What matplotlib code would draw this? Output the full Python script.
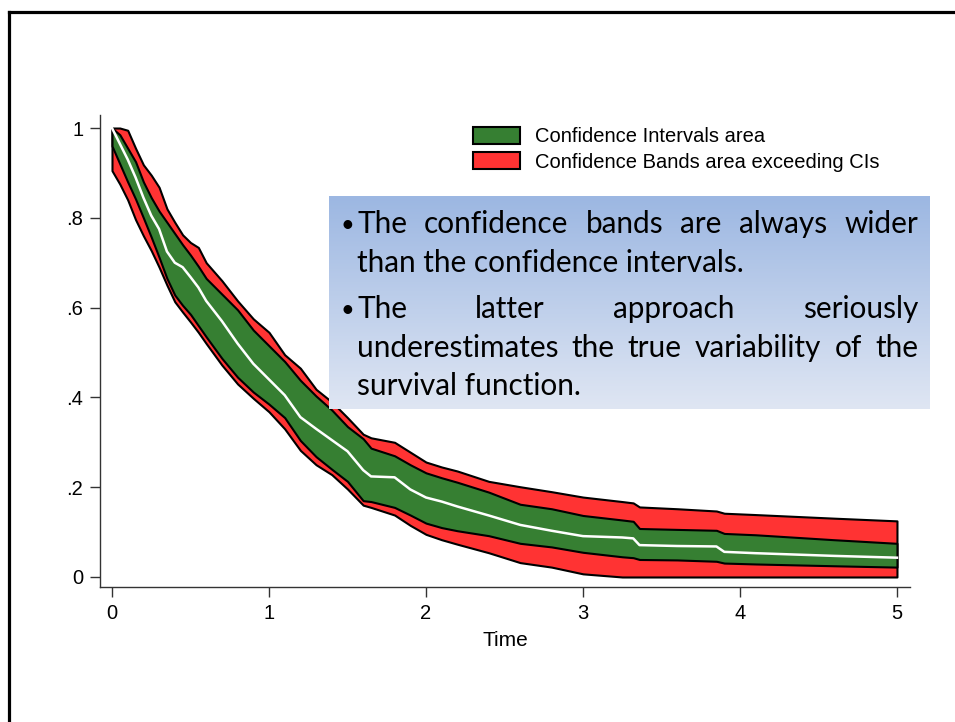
import matplotlib
matplotlib.use('Agg')
import matplotlib.pyplot as plt
import numpy as np
from matplotlib.patches import Patch
from matplotlib.colors import LinearSegmentedColormap
from matplotlib.lines import Line2D

# Datos

tiempo = [0, 0.05, 0.1, 0.15, 0.2, 0.25, 0.3, 0.35, 0.4, 0.45, 0.5, 0.55, 0.6,
          0.7, 0.8, 0.9, 1.0, 1.1, 1.2, 1.3, 1.4, 1.5, 1.6, 1.65, 1.8, 1.9,
          2.0, 2.1, 2.2, 2.4, 2.6, 2.8, 3.0, 3.25, 3.32, 3.36, 3.6, 3.85,
          3.9, 4.1, 4.6, 5.0]

supervivencia = [1.0, 0.965, 0.93, 0.89, 0.845, 0.805, 0.775, 0.725, 0.70, 0.69,
                 0.668, 0.645, 0.615, 0.57, 0.52, 0.475, 0.44, 0.405, 0.356,
                 0.33, 0.305, 0.28, 0.238, 0.224, 0.222, 0.195, 0.177, 0.168,
                 0.157, 0.137, 0.116, 0.103, 0.091, 0.088, 0.086, 0.071, 0.069,
                 0.068, 0.056, 0.053, 0.047, 0.043]

ic_sup = [1.0, 0.985, 0.955, 0.925, 0.88, 0.845, 0.815, 0.79, 0.765, 0.74, 0.717,
          0.692, 0.665, 0.63, 0.595, 0.55, 0.515, 0.48, 0.438, 0.403, 0.372,
          0.335, 0.308, 0.287, 0.27, 0.25, 0.232, 0.221, 0.211, 0.189, 0.162,
          0.152, 0.137, 0.127, 0.124, 0.108, 0.106, 0.104, 0.097, 0.094,
          0.083, 0.075]

ic_inf = [0.96, 0.92, 0.88, 0.842, 0.80, 0.757, 0.712, 0.665, 0.628, 0.605,
          0.585, 0.56, 0.535, 0.487, 0.445, 0.412, 0.385, 0.355, 0.304, 0.268,
          0.24, 0.213, 0.17, 0.168, 0.155, 0.138, 0.12, 0.11, 0.103, 0.092,
          0.075, 0.067, 0.055, 0.045, 0.043, 0.039, 0.038, 0.035, 0.031,
          0.029, 0.025, 0.022]

bc_sup = [1.0, 1.0, 0.995, 0.955, 0.918, 0.895, 0.868, 0.82, 0.79, 0.762, 0.745,
          0.734, 0.70, 0.66, 0.615, 0.575, 0.545, 0.495, 0.465, 0.418, 0.39,
          0.355, 0.318, 0.31, 0.30, 0.278, 0.256, 0.245, 0.236, 0.213, 0.201,
          0.19, 0.178, 0.168, 0.165, 0.156, 0.152, 0.147, 0.142, 0.139,
          0.131, 0.125]

bc_inf = [0.905, 0.875, 0.84, 0.796, 0.76, 0.727, 0.69, 0.65, 0.613, 0.59, 0.568,
          0.545, 0.52, 0.472, 0.43, 0.398, 0.368, 0.33, 0.282, 0.25, 0.228,
          0.196, 0.16, 0.155, 0.138, 0.115, 0.095, 0.083, 0.073, 0.054, 0.032,
          0.022, 0.007, 0.0, 0.0, 0.0, 0.0, 0.0, 0.0, 0.0, 0.0, 0.0]

ticks_x = [0, 1, 2, 3, 4, 5]
ticks_y = [0, 0.2, 0.4, 0.6, 0.8, 1.0]
etiquetas_y = ['0', '.2', '.4', '.6', '.8', '1']

etiquetas_leyenda = ['Confidence Intervals area', 'Confidence Bands area exceeding CIs']

lineas_texto = [
    ('The confidence bands are always wider', True, True),
    ('than the confidence intervals.', False, False),
    ('The latter approach seriously', True, True),
    ('underestimates the true variability of the', False, True),
    ('survival function.', False, False),
]

VERDE = '#367f32'
ROJO = '#ff3333'

W, H = 955, 722


def fx(px):
    return px / W


def fy(py):
    return 1 - py / H


fig = plt.figure(figsize=(W / 100, H / 100), dpi=100)
plt.rcParams['font.family'] = ['Liberation Sans', 'DejaVu Sans']

# marco de la diapositiva
fig.add_artist(Line2D([fx(8.5), fx(8.5)], [-0.01, fy(11.5)], color='black', lw=2.3,
                      solid_capstyle='projecting'))
fig.add_artist(Line2D([fx(8.5), 1.01], [fy(11.5), fy(11.5)], color='black', lw=2.3,
                      solid_capstyle='projecting'))

# grafico
ax = fig.add_axes([fx(100), fy(587), (910 - 100) / W, (587 - 115) / H])
ax.fill_between(tiempo, bc_inf, bc_sup, facecolor=ROJO, edgecolor='black',
                linewidth=1.5, zorder=2)
ax.fill_between(tiempo, ic_inf, ic_sup, facecolor=VERDE, edgecolor='black',
                linewidth=1.5, zorder=3)
ax.plot(tiempo, supervivencia, color='white', lw=1.8, zorder=4)

ax.set_xlim(-0.0764, 5.083)
ax.set_ylim(-0.0223, 1.029)
ax.set_xticks(ticks_x)
ax.set_yticks(ticks_y)
ax.set_yticklabels(etiquetas_y)
ax.tick_params(length=7, width=1, color='#333333', labelsize=14.5, pad=5)
for lado in ['top', 'right']:
    ax.spines[lado].set_visible(False)
for lado in ['left', 'bottom']:
    ax.spines[lado].set_color('#333333')
    ax.spines[lado].set_linewidth(1)
ax.set_xlabel('Time', fontsize=15, labelpad=6)

# leyenda
manijas = [Patch(facecolor=VERDE, edgecolor='black', linewidth=1.5),
           Patch(facecolor=ROJO, edgecolor='black', linewidth=1.5)]
fig.legend(manijas, etiquetas_leyenda, loc='upper left',
           bbox_to_anchor=(fx(473), fy(127)), frameon=False, fontsize=14.5,
           handlelength=2.33, handleheight=0.9, handletextpad=0.75,
           labelspacing=0.3, borderpad=0, borderaxespad=0)

# recuadro con degradado
caja = fig.add_axes([fx(329), fy(409), (930 - 329) / W, (409 - 196) / H], zorder=5)
degradado = np.linspace(0, 1, 256).reshape(-1, 1)
cmap = LinearSegmentedColormap.from_list('caja', ['#9cb7e2', '#dfe6f3'])
caja.imshow(degradado, cmap=cmap, aspect='auto')
caja.axis('off')

# texto justificado
fuente = 'Lato'
renderer = fig.canvas.get_renderer()


def ancho(s, fs):
    t = fig.text(0, 0, s, fontsize=fs, family=fuente)
    w = t.get_window_extent(renderer).width
    t.remove()
    return w


fs = 22 * 386 / ancho('than the confidence intervals.', 22)
fs_vineta = fs * 0.8
x_vineta = 354 - ancho('\u2022', fs_vineta)
x0, x1 = 357, 918
bases = [233, 272, 318, 357, 395]
for (linea, vineta, justificar), yb in zip(lineas_texto, bases):
    if vineta:
        fig.text(fx(x_vineta), fy(yb - 1), '\u2022', fontsize=fs_vineta,
                 family=fuente, va='baseline', zorder=6)
    palabras = linea.split()
    if justificar:
        anchos = [ancho(p, fs) for p in palabras]
        hueco = (x1 - x0 - sum(anchos)) / (len(palabras) - 1)
        x = x0
        for p, w in zip(palabras, anchos):
            fig.text(fx(x), fy(yb), p, fontsize=fs, family=fuente,
                     va='baseline', zorder=6)
            x += w + hueco
    else:
        fig.text(fx(x0), fy(yb), linea, fontsize=fs, family=fuente,
                 va='baseline', zorder=6)

fig.savefig('out.png', dpi=100)
